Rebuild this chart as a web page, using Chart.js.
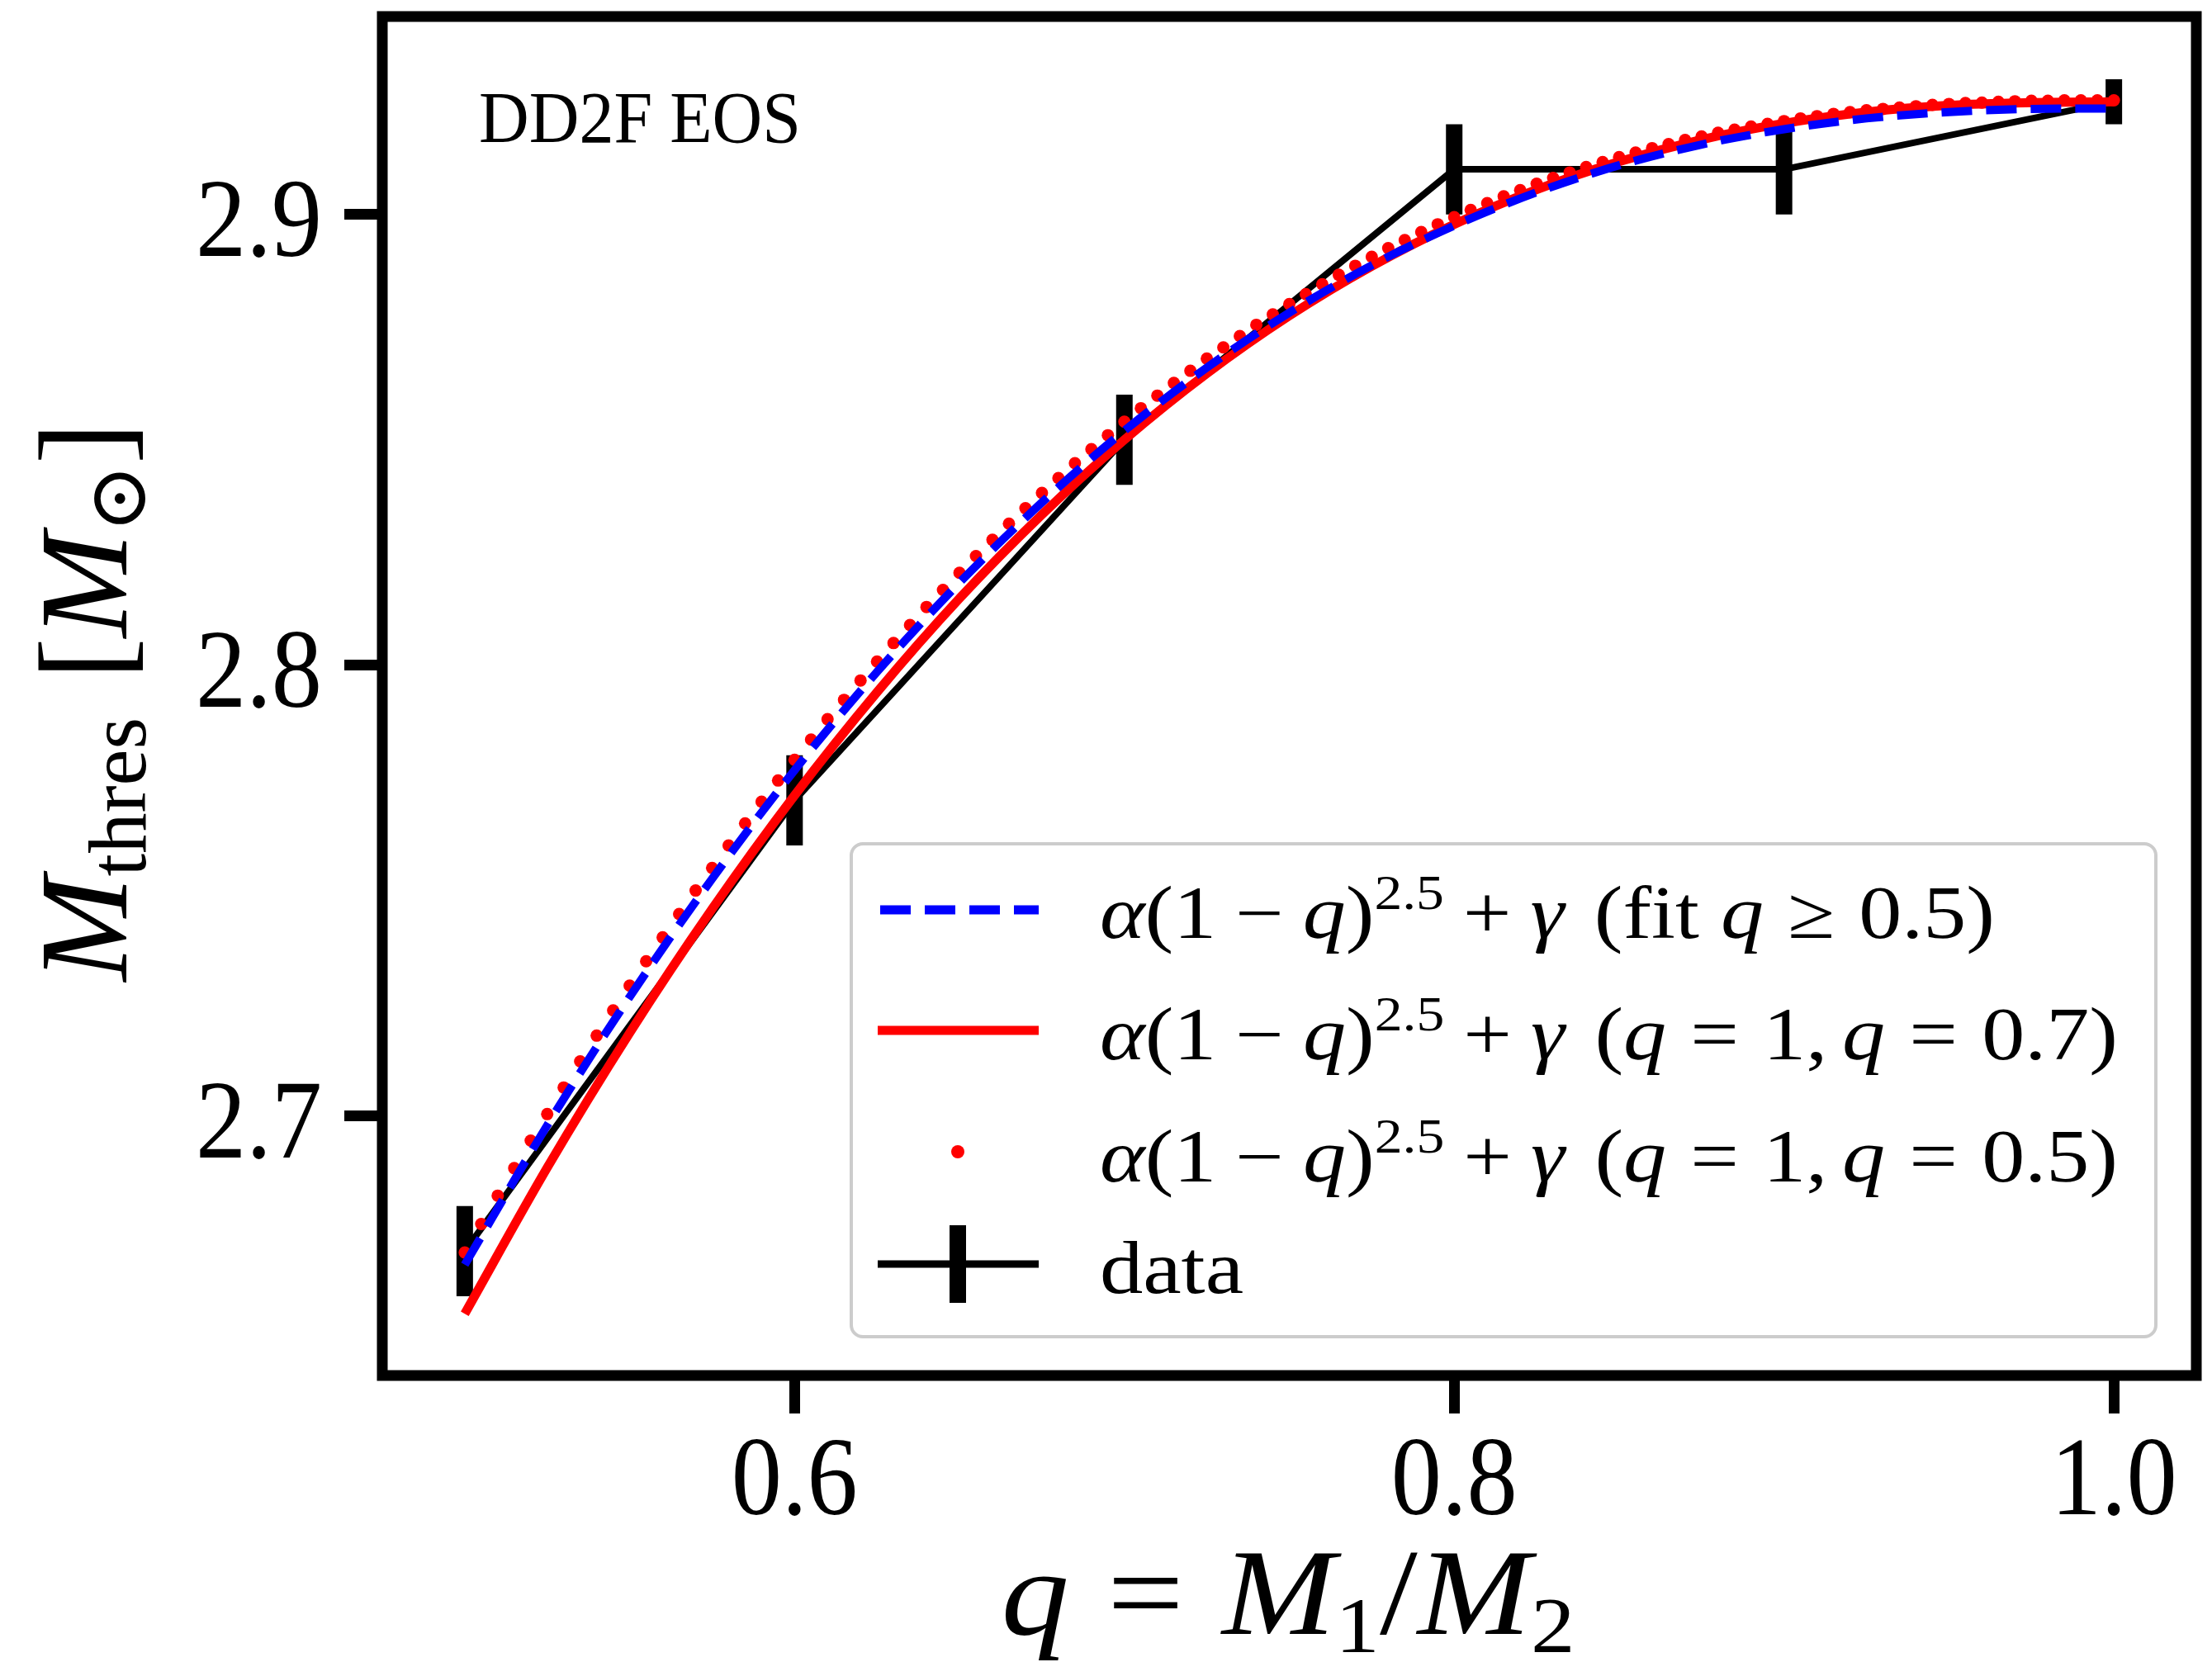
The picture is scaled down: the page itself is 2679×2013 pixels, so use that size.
<!DOCTYPE html>
<html>
<head>
<meta charset="utf-8">
<title>DD2F EOS - M_thres vs q</title>
<script src="https://cdn.jsdelivr.net/npm/chart.js@4.4.1/dist/chart.umd.min.js"></script>
<style>
  html, body { margin: 0; padding: 0; background: #fff; }
  canvas { display: block; }
</style>
</head>
<body>
<canvas id="mthres" width="2679" height="2013"></canvas>
<script>
// simulation points with error bars
const dataQ = [0.5, 0.6, 0.7, 0.8, 0.9, 1.0];
const dataM = [2.670, 2.770, 2.850, 2.910, 2.910, 2.925];
const dataErr = [0.010, 0.010, 0.010, 0.010, 0.010, 0.005];

// fitted curves
const fitQ = [0.5, 0.525, 0.55, 0.575, 0.6, 0.625, 0.65, 0.675, 0.7, 0.725, 0.75,
              0.775, 0.8, 0.825, 0.85, 0.875, 0.9, 0.925, 0.95, 0.975, 1.0];
const fitAllM = [2.6670, 2.6979, 2.7264, 2.7526, 2.7767, 2.7985, 2.8183, 2.8361, 2.8520, 2.8660, 2.8782,
                 2.8887, 2.8975, 2.9049, 2.9109, 2.9155, 2.9189, 2.9213, 2.9227, 2.9234, 2.9235];
const fit07M = [2.6561, 2.6885, 2.7184, 2.7459, 2.7711, 2.7940, 2.8148, 2.8334, 2.8500, 2.8647, 2.8775,
                2.8885, 2.8978, 2.9055, 2.9117, 2.9166, 2.9202, 2.9227, 2.9242, 2.9248, 2.9250];

// dotted fit (q = 1, q = 0.5)
const dotQ = [0.5, 0.505, 0.51, 0.515, 0.52, 0.525, 0.53, 0.535, 0.54, 0.545,
              0.55, 0.555, 0.56, 0.565, 0.57, 0.575, 0.58, 0.585, 0.59, 0.595,
              0.6, 0.605, 0.61, 0.615, 0.62, 0.625, 0.63, 0.635, 0.64, 0.645,
              0.65, 0.655, 0.66, 0.665, 0.67, 0.675, 0.68, 0.685, 0.69, 0.695,
              0.7, 0.705, 0.71, 0.715, 0.72, 0.725, 0.73, 0.735, 0.74, 0.745,
              0.75, 0.755, 0.76, 0.765, 0.77, 0.775, 0.78, 0.785, 0.79, 0.795,
              0.8, 0.805, 0.81, 0.815, 0.82, 0.825, 0.83, 0.835, 0.84, 0.845,
              0.85, 0.855, 0.86, 0.865, 0.87, 0.875, 0.88, 0.885, 0.89, 0.895,
              0.9, 0.905, 0.91, 0.915, 0.92, 0.925, 0.93, 0.935, 0.94, 0.945,
              0.95, 0.955, 0.96, 0.965, 0.97, 0.975, 0.98, 0.985, 0.99, 0.995,
              1.0];
const dotM = [2.6697, 2.6760, 2.6823, 2.6884, 2.6945, 2.7004, 2.7063, 2.7121, 2.7178, 2.7234,
              2.7289, 2.7343, 2.7396, 2.7448, 2.7500, 2.7550, 2.7600, 2.7649, 2.7697, 2.7744,
              2.7790, 2.7835, 2.7880, 2.7923, 2.7966, 2.8008, 2.8049, 2.8089, 2.8129, 2.8167,
              2.8205, 2.8242, 2.8278, 2.8314, 2.8348, 2.8382, 2.8415, 2.8448, 2.8479, 2.8510,
              2.8540, 2.8570, 2.8598, 2.8626, 2.8653, 2.8680, 2.8705, 2.8730, 2.8755, 2.8778,
              2.8801, 2.8823, 2.8845, 2.8866, 2.8886, 2.8906, 2.8925, 2.8943, 2.8961, 2.8978,
              2.8994, 2.9010, 2.9025, 2.9040, 2.9054, 2.9068, 2.9081, 2.9093, 2.9105, 2.9116,
              2.9127, 2.9137, 2.9147, 2.9156, 2.9165, 2.9173, 2.9181, 2.9188, 2.9195, 2.9201,
              2.9207, 2.9213, 2.9218, 2.9223, 2.9227, 2.9231, 2.9234, 2.9237, 2.9240, 2.9243,
              2.9245, 2.9247, 2.9248, 2.9250, 2.9251, 2.9252, 2.9252, 2.9253, 2.9253, 2.9253,
              2.9253];

const xTicks = [0.6, 0.8, 1.0];
const xTickLabels = ['0.6', '0.8', '1.0'];
const yTicks = [2.7, 2.8, 2.9];
const yTickLabels = ['2.7', '2.8', '2.9'];

const SERIF = '"Liberation Serif", "DejaVu Serif", "DejaVu Sans", serif';

// little rich-text helper: italic, sub/superscripts, gaps in em
function partFont(p, size) {
  const s = (p.sub || p.sup) ? size * 0.65 : size;
  return (p.it ? 'italic ' : '') + s.toFixed(1) + 'px ' + SERIF;
}
function richWidth(ctx, parts, size) {
  let w = 0;
  for (const p of parts) {
    if (p.g) { w += p.g * size; continue; }
    ctx.font = partFont(p, size);
    w += ctx.measureText(p.t).width;
  }
  return w;
}
function drawRich(ctx, parts, x, y, size, o) {
  o = o || {};
  const w = richWidth(ctx, parts, size);
  const sx = o.sx || (o.width ? o.width / w : 1);
  ctx.save();
  ctx.translate(x, y);
  if (o.rot) ctx.rotate(o.rot);
  ctx.scale(sx, 1);
  let cx = o.align === 'center' ? -w / 2 : (o.align === 'right' ? -w : 0);
  ctx.fillStyle = '#000';
  ctx.textAlign = 'left';
  ctx.textBaseline = 'alphabetic';
  for (const p of parts) {
    if (p.g) { cx += p.g * size; continue; }
    ctx.font = partFont(p, size);
    const dy = p.sub ? size * 0.15 : (p.sup ? -size * 0.39 : 0);
    ctx.fillText(p.t, cx, dy);
    cx += ctx.measureText(p.t).width;
  }
  ctx.restore();
}

const fitHead = [{t: 'α', it: 1}, {t: '(1'}, {g: 0.22}, {t: '−'}, {g: 0.22}, {t: 'q', it: 1}, {t: ')'},
                 {t: '2.5', sup: 1}, {g: 0.22}, {t: '+'}, {g: 0.22}, {t: 'γ', it: 1}, {g: 0.35}];
const legendRows = [
  fitHead.concat([{t: '(fit '}, {t: 'q', it: 1}, {g: 0.28}, {t: '≥'}, {g: 0.28}, {t: '0.5)'}]),
  fitHead.concat([{t: '('}, {t: 'q', it: 1}, {g: 0.28}, {t: '='}, {g: 0.28}, {t: '1,'}, {g: 0.17},
                  {t: 'q', it: 1}, {g: 0.28}, {t: '='}, {g: 0.28}, {t: '0.7)'}]),
  fitHead.concat([{t: '('}, {t: 'q', it: 1}, {g: 0.28}, {t: '='}, {g: 0.28}, {t: '1,'}, {g: 0.17},
                  {t: 'q', it: 1}, {g: 0.28}, {t: '='}, {g: 0.28}, {t: '0.5)'}]),
  [{t: 'data'}]
];
const legendWidths = [1084, 1233, 1233, 174];

const decorations = {
  id: 'decorations',
  beforeDatasetsDraw(chart) {
    const {ctx, scales: {x, y}} = chart;
    ctx.save();
    ctx.strokeStyle = '#000';
    ctx.lineWidth = 20;
    dataQ.forEach((q, i) => {
      const px = x.getPixelForValue(q);
      ctx.beginPath();
      ctx.moveTo(px, y.getPixelForValue(dataM[i] - dataErr[i]));
      ctx.lineTo(px, y.getPixelForValue(dataM[i] + dataErr[i]));
      ctx.stroke();
    });
    ctx.restore();
  },
  afterDraw(chart) {
    const {ctx, chartArea: a, scales: {x, y}} = chart;

    // axes box
    ctx.save();
    ctx.strokeStyle = '#000';
    ctx.lineWidth = 13;
    ctx.strokeRect(a.left, a.top, a.right - a.left, a.bottom - a.top);
    ctx.restore();

    // tick labels
    ctx.font = '136px ' + SERIF;
    const tsx = 153 / ctx.measureText('0.6').width;
    xTicks.forEach((v, i) => drawRich(ctx, [{t: xTickLabels[i]}], x.getPixelForValue(v), 1834, 136, {align: 'center', sx: tsx}));
    yTicks.forEach((v, i) => drawRich(ctx, [{t: yTickLabels[i]}], 390, y.getPixelForValue(v) + 50, 136, {align: 'right', sx: tsx}));

    // axis titles
    drawRich(ctx, [{t: 'q', it: 1}, {g: 0.28}, {t: '='}, {g: 0.28}, {t: 'M', it: 1}, {t: '1', sub: 1},
                   {t: '/'}, {t: 'M', it: 1}, {t: '2', sub: 1}],
             1560, 1979, 148, {align: 'center', width: 695});
    drawRich(ctx, [{t: 'M', it: 1}, {t: 'thres', sub: 1}, {g: 0.3}, {t: '['}, {t: 'M', it: 1},
                   {t: '⊙', sub: 1}, {t: ']'}],
             153, 850, 152, {align: 'center', width: 677, rot: -Math.PI / 2});

    // EOS note
    drawRich(ctx, [{t: 'DD2F EOS'}], 580, 172, 89, {width: 390});

    // legend
    const lx = 1031, ly = 1022, lw = 1580, lh = 597;
    ctx.save();
    ctx.beginPath();
    ctx.roundRect(lx, ly, lw, lh, 14);
    ctx.fillStyle = 'rgba(255,255,255,0.8)';
    ctx.fill();
    ctx.strokeStyle = '#cccccc';
    ctx.lineWidth = 4;
    ctx.stroke();

    const rowY = [1102, 1248, 1395, 1531];
    const h0 = 1063, h1 = 1258, hc = 1160;
    ctx.lineCap = 'butt';
    ctx.strokeStyle = '#0000ff';
    ctx.lineWidth = 11;
    ctx.setLineDash([37, 17]);
    ctx.beginPath(); ctx.moveTo(h0 + 3, rowY[0]); ctx.lineTo(h1, rowY[0]); ctx.stroke();
    ctx.setLineDash([]);
    ctx.strokeStyle = '#ff0000';
    ctx.beginPath(); ctx.moveTo(h0, rowY[1]); ctx.lineTo(h1, rowY[1]); ctx.stroke();
    ctx.fillStyle = '#ff0000';
    ctx.beginPath(); ctx.arc(hc, rowY[2], 8, 0, Math.PI * 2); ctx.fill();
    ctx.strokeStyle = '#000';
    ctx.lineWidth = 9;
    ctx.beginPath(); ctx.moveTo(h0, rowY[3]); ctx.lineTo(h1, rowY[3]); ctx.stroke();
    ctx.lineWidth = 20;
    ctx.beginPath(); ctx.moveTo(hc, rowY[3] - 47); ctx.lineTo(hc, rowY[3] + 47); ctx.stroke();
    ctx.restore();

    const baseY = [1136, 1283, 1431, 1566];
    legendRows.forEach((parts, i) => drawRich(ctx, parts, 1332, baseY[i], 90, {width: legendWidths[i]}));
  }
};

const axisCommon = {
  type: 'linear',
  ticks: {display: false},
  grid: {drawOnChartArea: false, drawTicks: true, tickLength: 46, tickWidth: 13, tickColor: '#000'},
  border: {display: false}
};

new Chart(document.getElementById('mthres'), {
  type: 'scatter',
  data: {
    datasets: [
      {
        label: 'fit q >= 0.5',
        data: fitQ.map((q, i) => ({x: q, y: fitAllM[i]})),
        showLine: true,
        borderColor: '#0000ff',
        borderWidth: 10,
        borderDash: [37, 17],
        pointRadius: 0,
        cubicInterpolationMode: 'monotone',
        order: 0
      },
      {
        label: 'q = 1, q = 0.7',
        data: fitQ.map((q, i) => ({x: q, y: fit07M[i]})),
        showLine: true,
        borderColor: '#ff0000',
        borderWidth: 11,
        pointRadius: 0,
        cubicInterpolationMode: 'monotone',
        order: 1
      },
      {
        label: 'q = 1, q = 0.5',
        data: dotQ.map((q, i) => ({x: q, y: dotM[i]})),
        showLine: false,
        pointRadius: 7.5,
        pointBorderWidth: 0,
        pointBackgroundColor: '#ff0000',
        order: 2
      },
      {
        label: 'data',
        data: dataQ.map((q, i) => ({x: q, y: dataM[i]})),
        showLine: true,
        borderColor: '#000',
        borderWidth: 8,
        pointRadius: 0,
        order: 3
      }
    ]
  },
  options: {
    responsive: false,
    animation: false,
    devicePixelRatio: 1,
    layout: {padding: {top: 20, right: 19, left: 0, bottom: 0}},
    plugins: {legend: {display: false}, tooltip: {enabled: false}},
    scales: {
      x: Object.assign({}, axisCommon, {
        min: 0.475, max: 1.025,
        afterBuildTicks: s => { s.ticks = xTicks.map(v => ({value: v})); },
        afterFit: s => { s.height = 347; }
      }),
      y: Object.assign({}, axisCommon, {
        min: 2.6424, max: 2.9439,
        afterBuildTicks: s => { s.ticks = yTicks.map(v => ({value: v})); },
        afterFit: s => { s.width = 463; }
      })
    }
  },
  plugins: [decorations]
});
</script>
</body>
</html>
